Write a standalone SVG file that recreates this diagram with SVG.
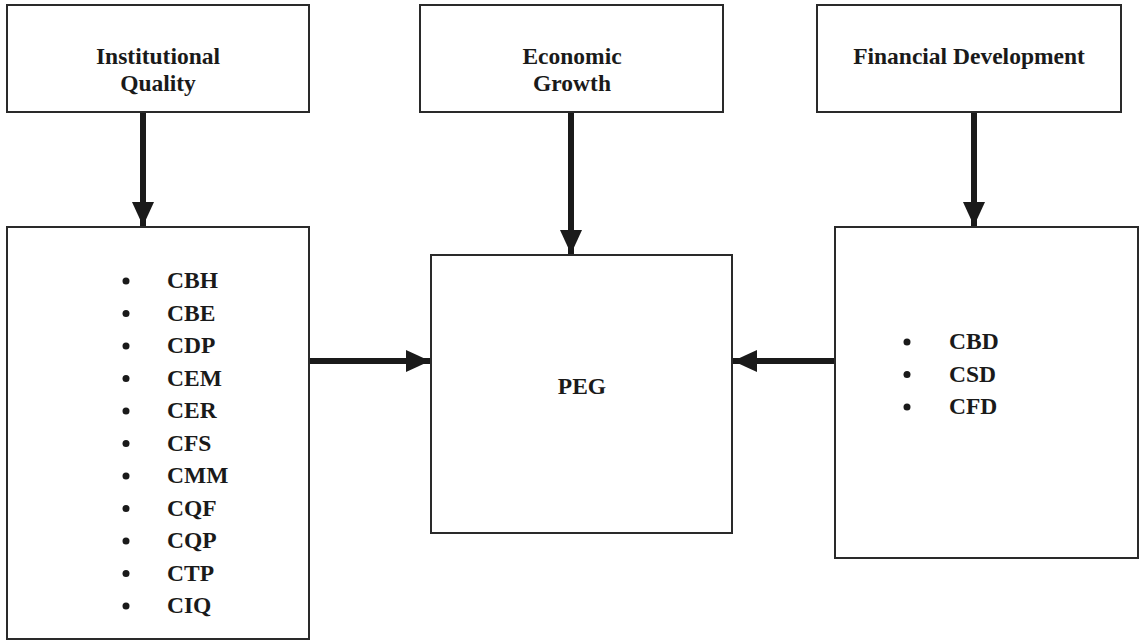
<svg xmlns="http://www.w3.org/2000/svg" width="1144" height="641" viewBox="0 0 1144 641">
<style>
.box{fill:#fff;stroke:#2a2a2a;stroke-width:2}
.t{font-family:"Liberation Serif","Times New Roman",serif;font-weight:bold;font-size:23.5px;fill:#1a1a1a}
.c{text-anchor:middle}
.conn{stroke:#1a1a1a;stroke-width:6;fill:none}
.bul{fill:#1a1a1a}
</style>
<defs>
<marker id="ah" markerUnits="userSpaceOnUse" markerWidth="24" markerHeight="22" refX="24" refY="11" orient="auto">
<path d="M0,0 L24,11 L0,22 Z" fill="#1a1a1a"/>
</marker>
</defs>
<rect width="1144" height="641" fill="#fff"/>
<g id="iq-top">
<rect class="box" x="7" y="5" width="302" height="107"/>
<text class="t c" x="158" y="64">Institutional</text>
<text class="t c" x="158" y="91">Quality</text>
</g>
<g id="eg">
<rect class="box" x="420" y="5" width="303" height="107"/>
<text class="t c" x="572" y="64">Economic</text>
<text class="t c" x="572" y="91">Growth</text>
</g>
<g id="fd-top">
<rect class="box" x="817" y="5" width="304" height="107"/>
<text class="t c" x="969" y="64">Financial Development</text>
</g>
<g id="iq-list">
<rect class="box" x="7" y="227" width="302" height="412"/>
<g class="bul">
<circle cx="126" cy="281" r="3.5"/><circle cx="126" cy="313.5" r="3.5"/><circle cx="126" cy="346" r="3.5"/><circle cx="126" cy="378.5" r="3.5"/><circle cx="126" cy="411" r="3.5"/><circle cx="126" cy="443.5" r="3.5"/><circle cx="126" cy="476" r="3.5"/><circle cx="126" cy="508.5" r="3.5"/><circle cx="126" cy="541" r="3.5"/><circle cx="126" cy="573.5" r="3.5"/><circle cx="126" cy="606" r="3.5"/>
</g>
<text class="t" x="167" y="288">CBH</text>
<text class="t" x="167" y="320.5">CBE</text>
<text class="t" x="167" y="353">CDP</text>
<text class="t" x="167" y="385.5">CEM</text>
<text class="t" x="167" y="418">CER</text>
<text class="t" x="167" y="450.5">CFS</text>
<text class="t" x="167" y="483">CMM</text>
<text class="t" x="167" y="515.5">CQF</text>
<text class="t" x="167" y="548">CQP</text>
<text class="t" x="167" y="580.5">CTP</text>
<text class="t" x="167" y="613">CIQ</text>
</g>
<g id="peg">
<rect class="box" x="431" y="255" width="301" height="278"/>
<text class="t c" x="582" y="394">PEG</text>
</g>
<g id="fd-list">
<rect class="box" x="835" y="227" width="303" height="331"/>
<g class="bul">
<circle cx="907" cy="342" r="3.5"/><circle cx="907" cy="374.5" r="3.5"/><circle cx="907" cy="407" r="3.5"/>
</g>
<text class="t" x="949" y="349">CBD</text>
<text class="t" x="949" y="381.5">CSD</text>
<text class="t" x="949" y="414">CFD</text>
</g>
<g id="connectors">
<line class="conn" x1="143" y1="113" x2="143" y2="226" marker-end="url(#ah)"/>
<line class="conn" x1="571" y1="113" x2="571" y2="254" marker-end="url(#ah)"/>
<line class="conn" x1="974" y1="113" x2="974" y2="226" marker-end="url(#ah)"/>
<line class="conn" x1="310" y1="361" x2="430" y2="361" marker-end="url(#ah)"/>
<line class="conn" x1="834" y1="361" x2="733" y2="361" marker-end="url(#ah)"/>
</g>
</svg>
